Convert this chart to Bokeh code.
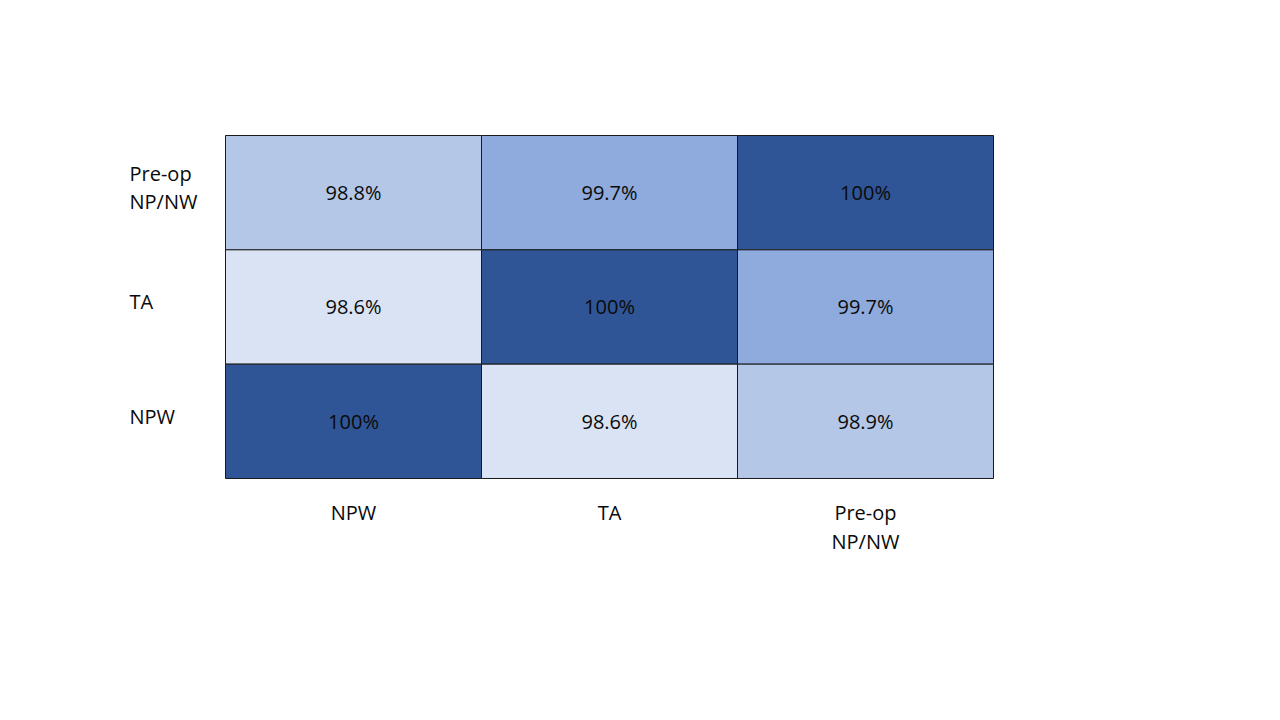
import numpy as np
from bokeh.plotting import figure
from bokeh.models import Range1d, ColumnDataSource
from bokeh.core.properties import value
from bokeh.embed import file_html
from bokeh.resources import INLINE

# ---- data ----
row_labels = ["Pre-op\nNP/NW", "TA", "NPW"]          # top to bottom
col_labels = ["NPW", "TA", "Pre-op\nNP/NW"]          # left to right
values = [
    [98.8, 99.7, 100.0],   # Pre-op NP/NW
    [98.6, 100.0, 99.7],   # TA
    [100.0, 98.6, 98.9],   # NPW
]

# palette (light -> dark)
palette = ["#DAE3F3", "#B4C7E7", "#8FAADC", "#2F5597"]
thresholds = [98.7, 99.5, 99.95]

def color_for(v):
    return palette[int(np.searchsorted(thresholds, v, side="right"))]

# ---- layout geometry (pixels) ----
W, H = 1264, 704
grid_left, grid_top = 225, 135
cell_w, cell_h = 256, 114.33
nrows, ncols = len(row_labels), len(col_labels)
grid_bottom_from_bottom = H - (grid_top + nrows * cell_h)

x_start = -grid_left / cell_w
x_end = (W - grid_left) / cell_w
y_start = -grid_bottom_from_bottom / cell_h
y_end = (H - grid_bottom_from_bottom) / cell_h

xs, ys, cols, txts = [], [], [], []
for r in range(nrows):
    for c in range(ncols):
        v = values[r][c]
        xs.append(c + 0.5)
        ys.append(nrows - r - 0.5)
        cols.append(color_for(v))
        txts.append(f"{v:g}%")

src = ColumnDataSource(dict(x=xs, y=ys, color=cols, text=txts))

p = figure(width=W, height=H, output_backend="svg", toolbar_location=None,
           x_range=Range1d(x_start, x_end), y_range=Range1d(y_start, y_end),
           min_border=0, min_border_left=0, min_border_right=0,
           min_border_top=0, min_border_bottom=0)
p.axis.visible = False
p.grid.visible = False
p.outline_line_color = None
p.background_fill_color = "white"
p.border_fill_color = "white"

p.rect(x="x", y="y", width=1, height=1, source=src, fill_color="color",
       line_color="#1a1a1a", line_width=1)

font = value("Open Sans")
p.text(x="x", y="y", text="text", source=src, text_font=font,
       text_font_size="20px", text_color="#0a0a0a",
       text_align="center", text_baseline="middle")

# left row labels
label_x = -96 / cell_w
p.text(x=[label_x] * nrows, y=[nrows - r - 0.5 for r in range(nrows)],
       text=row_labels, text_font=font, text_font_size="20px",
       text_color="#0a0a0a", text_align="left", text_baseline="middle",
       text_line_height=1.04, y_offset=-5)

# bottom column labels
p.text(x=[c + 0.5 for c in range(ncols)], y=[-21 / cell_h] * ncols,
       text=col_labels, text_font=font, text_font_size="20px",
       text_color="#0a0a0a", text_align="center", text_baseline="top",
       text_line_height=1.04)

open("out.html", "w").write(file_html(p, INLINE))
